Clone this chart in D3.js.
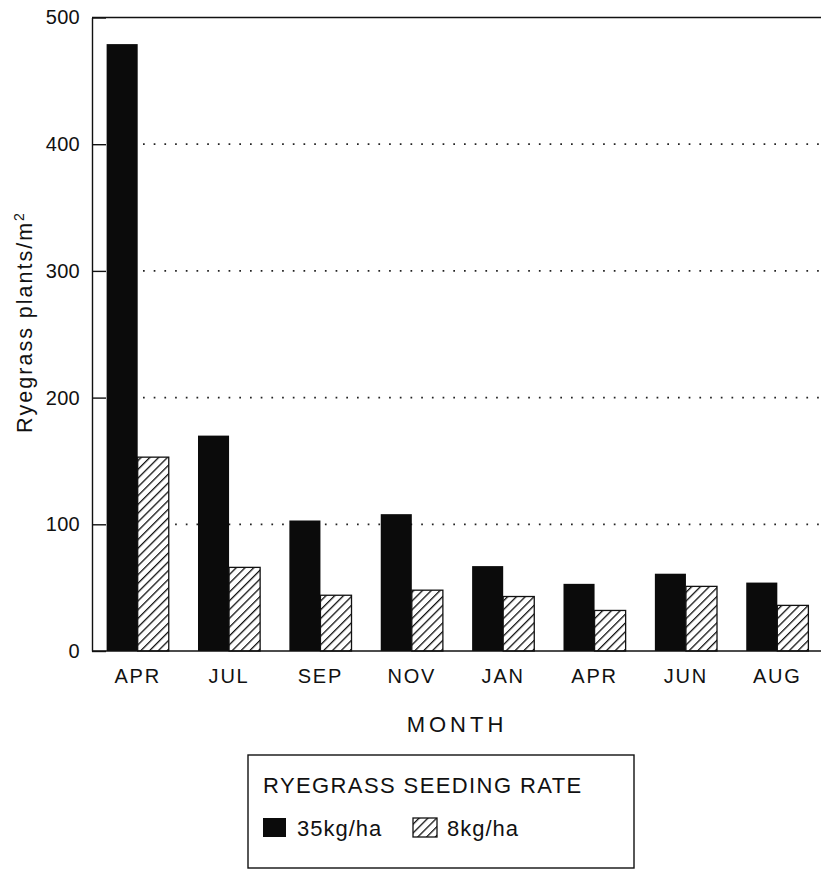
<!DOCTYPE html>
<html>
<head>
<meta charset="utf-8">
<script src="https://cdn.jsdelivr.net/npm/d3@7"></script>
<style>
  html, body { margin: 0; padding: 0; background: #fff; }
  svg { display: block; }
  text { font-family: "Liberation Sans", Arial, Helvetica, sans-serif; fill: #111; }
</style>
</head>
<body>
<svg id="chart" width="821" height="870"></svg>
<script>
const months = ["APR", "JUL", "SEP", "NOV", "JAN", "APR", "JUN", "AUG"];
const monthKeys = ["APR1", "JUL", "SEP", "NOV", "JAN", "APR2", "JUN", "AUG"];
const rate35 = [479, 170, 103, 108, 67, 53, 61, 54];
const rate8 = [153, 66, 44, 48, 43, 32, 51, 36];
const seriesNames = ["35kg/ha", "8kg/ha"];
const yTicks = [0, 100, 200, 300, 400, 500];
const gridValues = [100, 200, 300, 400];

const svg = d3.select("#chart");
const plotLeft = 92, plotRight = 823, plotTop = 17.5, plotBottom = 651;

const x = d3.scaleBand().domain(monthKeys).range([plotLeft, plotRight])
  .paddingInner(0.32).paddingOuter(0.16);
const xs = d3.scaleBand().domain([0, 1]).range([0, x.bandwidth()]);
const y = d3.scaleLinear().domain([0, 500]).range([plotBottom, plotTop]);

// hatch pattern
const defs = svg.append("defs");
const hs = 6.2;
const pat = defs.append("pattern").attr("id", "hatch")
  .attr("patternUnits", "userSpaceOnUse").attr("width", hs).attr("height", hs)
  .attr("patternTransform", "rotate(45)");
pat.append("rect").attr("width", hs).attr("height", hs).attr("fill", "#fff");
pat.append("line").attr("x1", 0).attr("y1", 0).attr("x2", 0).attr("y2", hs)
  .attr("stroke", "#111").attr("stroke-width", 2.6);

// gridlines (dotted)
svg.append("g").selectAll("line").data(gridValues).join("line")
  .attr("x1", 143).attr("x2", 821)
  .attr("y1", d => y(d)).attr("y2", d => y(d))
  .attr("stroke", "#222").attr("stroke-width", 1.7)
  .attr("stroke-dasharray", "1.7,9");

// top border
svg.append("line").attr("x1", plotLeft).attr("x2", 821)
  .attr("y1", y(500)).attr("y2", y(500))
  .attr("stroke", "#111").attr("stroke-width", 1.4);

// bars
const groups = svg.append("g").selectAll("g").data(monthKeys).join("g")
  .attr("transform", d => `translate(${x(d)},0)`);
groups.append("rect")
  .attr("x", xs(0)).attr("width", xs.bandwidth())
  .attr("y", (d, i) => y(rate35[i])).attr("height", (d, i) => y(0) - y(rate35[i]))
  .attr("fill", "#0b0b0b");
groups.append("rect")
  .attr("x", xs(1)).attr("width", xs.bandwidth())
  .attr("y", (d, i) => y(rate8[i])).attr("height", (d, i) => y(0) - y(rate8[i]))
  .attr("fill", "url(#hatch)").attr("stroke", "#111").attr("stroke-width", 1.3);

// y axis
const yAxis = svg.append("g").attr("transform", `translate(${plotLeft},0)`)
  .call(d3.axisLeft(y).tickValues(yTicks).tickSize(-14).tickSizeOuter(0).tickPadding(12));
yAxis.select(".domain").attr("stroke", "#111").attr("stroke-width", 1.4);
yAxis.selectAll(".tick line").attr("stroke", "#111").attr("stroke-width", 1.4);
yAxis.selectAll(".tick text").attr("font-size", 20).attr("letter-spacing", "0.3px")
  .attr("font-family", "'Liberation Sans', Arial, sans-serif").attr("fill", "#111");

// x axis
const xAxis = svg.append("g").attr("transform", `translate(0,${plotBottom})`)
  .call(d3.axisBottom(x).tickSize(0).tickSizeOuter(0).tickPadding(18)
    .tickFormat((d, i) => months[i]));
xAxis.select(".domain").attr("stroke", "#111").attr("stroke-width", 1.4)
  .attr("d", `M${plotLeft},0H821`);
xAxis.selectAll(".tick text").attr("font-size", 20).attr("letter-spacing", "1.8px")
  .attr("font-family", "'Liberation Sans', Arial, sans-serif").attr("fill", "#111");

// axis titles
svg.append("text").attr("x", 457).attr("y", 732).attr("text-anchor", "middle")
  .attr("font-size", 22).attr("letter-spacing", "4px").text("MONTH");

const yl = svg.append("text").attr("transform", "translate(32,322) rotate(-90)")
  .attr("text-anchor", "middle").attr("font-size", 21.5).attr("letter-spacing", "2px");
yl.append("tspan").text("Ryegrass plants/m");
yl.append("tspan").attr("font-size", 14).attr("dy", -8).text("2");

// legend
const lg = svg.append("g");
lg.append("rect").attr("x", 248).attr("y", 755).attr("width", 386).attr("height", 113)
  .attr("fill", "#fff").attr("stroke", "#111").attr("stroke-width", 1.4);
lg.append("text").attr("x", 263).attr("y", 793).attr("font-size", 22)
  .attr("letter-spacing", "1.4px").text("RYEGRASS SEEDING RATE");
lg.append("rect").attr("x", 263).attr("y", 818).attr("width", 23).attr("height", 19)
  .attr("fill", "#0b0b0b");
lg.append("text").attr("x", 297).attr("y", 836).attr("font-size", 22)
  .attr("letter-spacing", "1px").text(seriesNames[0]);
lg.append("rect").attr("x", 413).attr("y", 818).attr("width", 24).attr("height", 19)
  .attr("fill", "url(#hatch)").attr("stroke", "#111").attr("stroke-width", 1.3);
lg.append("text").attr("x", 447).attr("y", 836).attr("font-size", 22)
  .attr("letter-spacing", "1px").text(seriesNames[1]);
</script>
</body>
</html>
